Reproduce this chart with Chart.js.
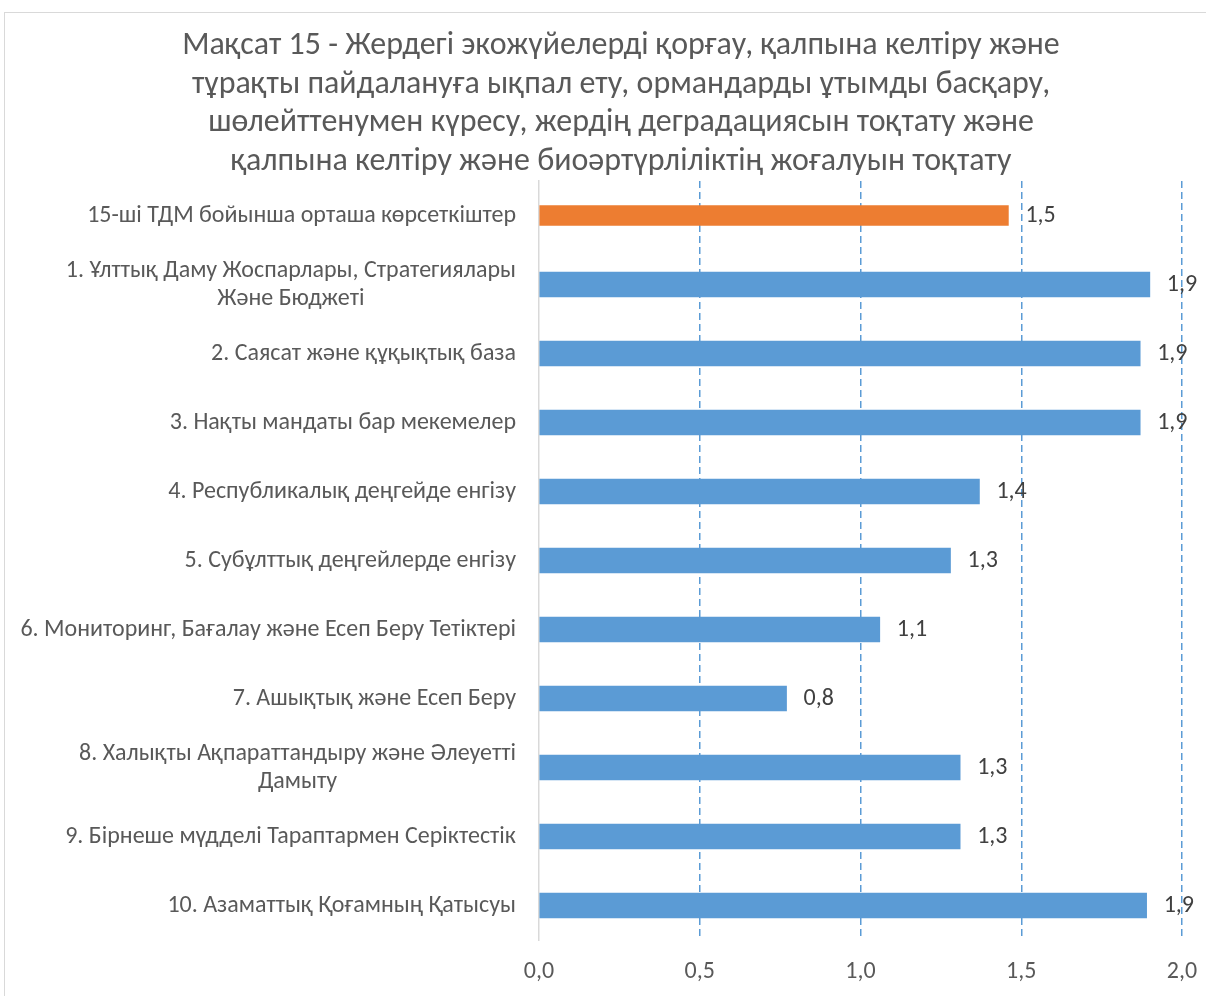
<!DOCTYPE html>
<html><head><meta charset="utf-8">
<script src="https://cdn.jsdelivr.net/npm/chart.js@4"></script>
<style>
html,body{margin:0;padding:0;background:#fff;overflow:hidden;width:1206px;height:996px}
#frame{position:absolute;left:4px;top:12px;width:1400px;height:1200px;border-left:1px solid #d9d9d9;border-top:1px solid #d9d9d9}
#wrap{position:absolute;left:0;top:0;width:1206px;height:996px}
</style></head><body>
<div id="frame"></div>
<div id="wrap"><canvas id="c" width="1206" height="996"></canvas></div>
<script>
const titleLines = [
  'Мақсат 15 - Жердегі экожүйелерді қорғау, қалпына келтіру және',
  'тұрақты пайдалануға ықпал ету, ормандарды ұтымды басқару,',
  'шөлейттенумен күресу, жердің деградациясын тоқтату және',
  'қалпына келтіру және биоәртүрліліктің жоғалуын тоқтату'
];
const categories = [
  '15-ші ТДМ бойынша орташа көрсеткіштер',
  ['1. Ұлттық Даму Жоспарлары, Стратегиялары', 'Және Бюджеті'],
  '2. Саясат және құқықтық база',
  '3. Нақты мандаты бар мекемелер',
  '4. Республикалық деңгейде енгізу',
  '5. Субұлттық деңгейлерде енгізу',
  '6. Мониторинг, Бағалау және Есеп Беру Тетіктері',
  '7. Ашықтық және Есеп Беру',
  ['8. Халықты Ақпараттандыру және Әлеуетті', 'Дамыту'],
  '9. Бірнеше мүдделі Тараптармен Серіктестік',
  '10. Азаматтық Қоғамның Қатысуы'
];
const averageValues   = [1.46, null, null, null, null, null, null, null, null, null, null];
const indicatorValues = [null, 1.90, 1.87, 1.87, 1.37, 1.28, 1.06, 0.77, 1.31, 1.31, 1.89];
const xTickValues = [0, 0.5, 1.0, 1.5, 2.0];

function hasFont(f){
  const c=document.createElement('canvas').getContext('2d');
  const s='Мақсат жүйе қорғау abc';
  c.font='40px monospace'; const a=c.measureText(s).width;
  c.font='40px '+f+', monospace'; return c.measureText(s).width!==a;
}
const FAMILY = hasFont('Carlito') ? 'Carlito' : (hasFont('"Liberation Sans Narrow"') ? '"Liberation Sans Narrow"' : 'Roboto');
function fitSize(text, target){
  const c=document.createElement('canvas').getContext('2d');
  c.font='100px '+FAMILY;
  return 100*target/c.measureText(text).width;
}
const titleSize = fitSize(titleLines[0], 878);
const labelSize = fitSize(categories[0], 429);
const fmt = v => Number(v).toFixed(1).replace('.', ',');

const yLabelPlugin = {
  id:'yLabels',
  afterDraw(chart){
    const {ctx, chartArea, scales:{y}} = chart;
    ctx.save();
    ctx.font = labelSize+'px '+FAMILY;
    ctx.fillStyle = '#595959';
    ctx.textBaseline = 'middle';
    ctx.textAlign = 'center';
    const right = chartArea.left - 23;
    categories.forEach((lab,i)=>{
      const lines = Array.isArray(lab)?lab:[lab];
      const w = Math.max(...lines.map(l=>ctx.measureText(l).width));
      const cx = right - w/2;
      const yc = y.getPixelForValue(i);
      lines.forEach((l,k)=>ctx.fillText(l, cx, yc + (k-(lines.length-1)/2)*28));
    });
    ctx.restore();
  }
};
const valueLabelPlugin = {
  id:'valueLabels',
  afterDatasetsDraw(chart){
    const {ctx} = chart;
    ctx.save();
    ctx.font = labelSize+'px '+FAMILY;
    ctx.fillStyle = '#404040';
    ctx.textBaseline = 'middle';
    ctx.textAlign = 'left';
    chart.data.datasets.forEach((ds,di)=>{
      const meta = chart.getDatasetMeta(di);
      meta.data.forEach((el,i)=>{
        const v = ds.data[i];
        if (v === null || v === undefined) return;
        ctx.fillText(fmt(v), el.x + 17, el.y);
      });
    });
    ctx.restore();
  }
};

new Chart(document.getElementById('c'), {
  type:'bar',
  data:{
    labels: categories,
    datasets:[
      {data: averageValues, backgroundColor:'#ed7d31', barThickness:20, grouped:false},
      {data: indicatorValues, backgroundColor:'#5b9bd5', barThickness:25, grouped:false}
    ]
  },
  options:{
    indexAxis:'y',
    responsive:false,
    animation:false,
    devicePixelRatio:1,
    layout:{padding:{left:60,right:24,top:0,bottom:0}},
    plugins:{
      legend:{display:false},
      tooltip:{enabled:false},
      title:{display:true, text:titleLines, color:'#595959',
        font:{family:FAMILY, size:titleSize, weight:'normal', lineHeight:38.5/titleSize},
        padding:{top:27,bottom:0}}
    },
    scales:{
      x:{
        min:0, max:2,
        afterBuildTicks: s => { s.ticks = xTickValues.map(v=>({value:v})); },
        afterFit: s => { s.height = 56; s.paddingLeft = 0; s.paddingRight = 0; },
        ticks:{callback: v => fmt(v), color:'#595959', font:{family:FAMILY, size:labelSize}, padding:18, maxRotation:0},
        grid:{color: c => (c.tick && c.tick.value===0) ? 'rgba(0,0,0,0)' : '#5b9bd5', lineWidth:1.5, drawTicks:false},
        border:{display:false, dash:[7,4]}
      },
      y:{
        afterFit: s => { s.width = 479; s.paddingTop = 0; s.paddingBottom = 0; },
        ticks:{display:false},
        grid:{display:false, drawTicks:false},
        border:{display:true, color:'#d9d9d9', width:1.5}
      }
    }
  },
  plugins:[yLabelPlugin, valueLabelPlugin]
});
</script>
</body></html>
